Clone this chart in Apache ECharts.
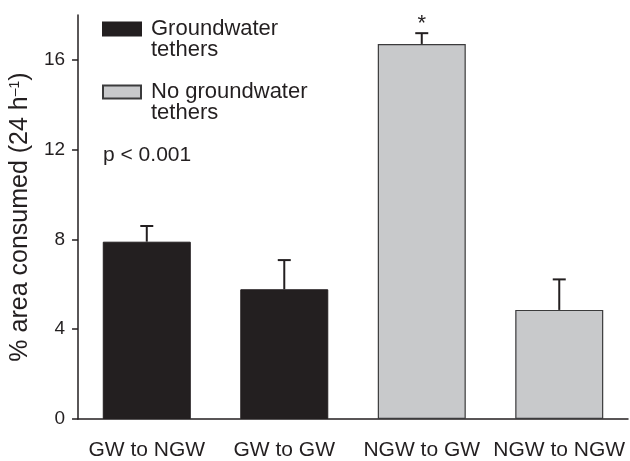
<!DOCTYPE html>
<html>
<head>
<meta charset="utf-8">
<script src="https://cdn.jsdelivr.net/npm/echarts@6/dist/echarts.min.js"></script>
<style>html,body{margin:0;padding:0;background:#fff;}#c{width:630px;height:461px;}</style>
</head>
<body>
<div id="c"></div>
<script>
const categories = ['GW to NGW', 'GW to GW', 'NGW to GW', 'NGW to NGW'];
const gwValues = [7.9, 5.78, '-', '-'];
const ngwValues = ['-', '-', 16.71, 4.86];
const errors = [0.7, 1.3, 0.48, 1.36];
const means = [7.9, 5.78, 16.71, 4.86];
const signif = ['', '', '*', ''];
const yTicks = [0, 4, 8, 12, 16];

const ink = '#231f20';
const chart = echarts.init(document.getElementById('c'), null, {renderer: 'canvas'});
const font = 'Liberation Sans, Arial, Helvetica, sans-serif';

const errData = means.map((m, i) => [i, m, m + errors[i], signif[i]]);

chart.setOption({
  animation: false,
  textStyle: {fontFamily: font, color: ink},
  grid: {left: 77, right: 2, top: 15, bottom: 40, containLabel: false},
  title: {
    text: 'p < 0.001', left: 103, top: 145, padding: 0,
    textStyle: {fontSize: 21, fontWeight: 'normal', color: ink, fontFamily: font}
  },
  legend: {
    orient: 'vertical', left: 102, top: -3, padding: 0,
    icon: 'rect',
    itemWidth: 38, itemHeight: 13, itemGap: -1,
    data: ['Groundwater\ntethers', 'No groundwater\ntethers'],
    formatter: function (name) { return '\n' + name; },
    textStyle: {fontSize: 22, lineHeight: 21, color: ink, fontFamily: font, padding: [0, 0, 0, 5]}
  },
  xAxis: {
    type: 'category', data: categories,
    axisLine: {lineStyle: {color: ink, width: 1.5}},
    axisTick: {alignWithLabel: true, length: 6, lineStyle: {color: ink, width: 1.5}},
    axisLabel: {fontSize: 21, color: ink, margin: 21, interval: 0, fontFamily: font}
  },
  yAxis: {
    type: 'value', min: 0, max: 18, interval: 4,
    name: '% area consumed (24 h{sup|–1})',
    nameLocation: 'middle', nameGap: 43,
    nameTextStyle: {fontSize: 25, color: ink, fontFamily: font,
      rich: {sup: {fontSize: 14, verticalAlign: 'top', color: ink, fontFamily: font, padding: [0,0,10,0]}}},
    axisLine: {show: true, lineStyle: {color: ink, width: 1.5}},
    axisTick: {show: true, length: 6, lineStyle: {color: ink, width: 1.5}, customValues: yTicks},
    axisLabel: {fontSize: 19, color: ink, margin: 13, fontFamily: font, customValues: yTicks},
    splitLine: {show: false}
  },
  series: [
    {
      name: 'Groundwater\ntethers', type: 'bar', data: gwValues, stack: 's',
      barWidth: 88,
      itemStyle: {color: ink, borderColor: ink, borderWidth: 1}
    },
    {
      name: 'No groundwater\ntethers', type: 'bar', data: ngwValues, stack: 's',
      barWidth: 88,
      itemStyle: {color: '#c8c9cb', borderColor: '#3b3b3c', borderWidth: 1.2}
    },
    {
      type: 'custom', name: 'err', data: errData, z: 10,
      renderItem: function (params, api) {
        const x = api.value(0);
        const lo = api.coord([x, api.value(1)]);
        const hi = api.coord([x, api.value(2)]);
        const hw = 6.5;
        const children = [
          {type: 'line', shape: {x1: lo[0], y1: lo[1], x2: hi[0], y2: hi[1]}, style: {stroke: ink, lineWidth: 2}},
          {type: 'line', shape: {x1: hi[0] - hw, y1: hi[1], x2: hi[0] + hw, y2: hi[1]}, style: {stroke: ink, lineWidth: 2}}
        ];
        const s = api.value(3);
        if (s) {
          children.push({type: 'text', style: {text: s, x: hi[0], y: hi[1] + 2, align: 'center', verticalAlign: 'bottom', fontSize: 22, fill: ink, fontFamily: font}});
        }
        return {type: 'group', children: children};
      }
    }
  ]
});
</script>
</body>
</html>
